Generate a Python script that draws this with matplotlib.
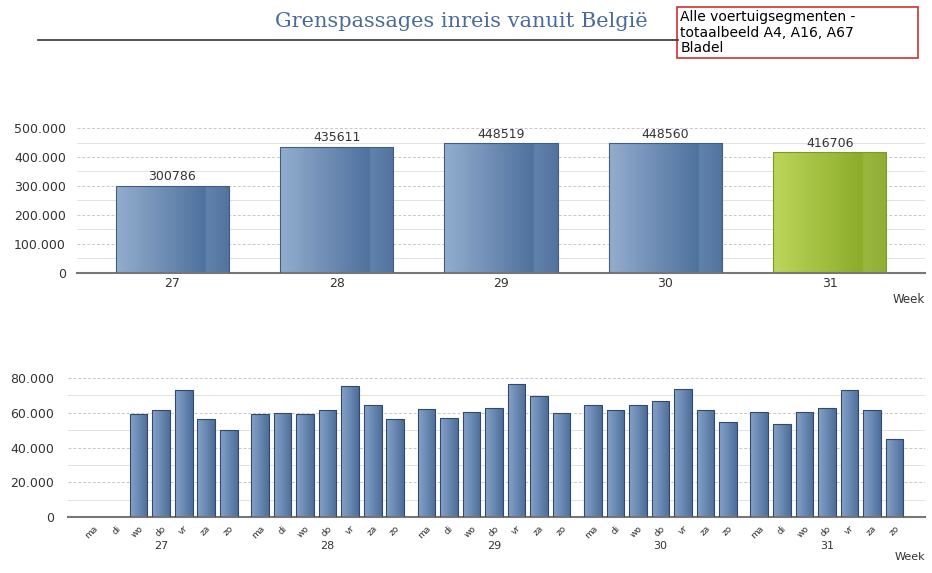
import numpy as np
import matplotlib
matplotlib.use("Agg")
import matplotlib.pyplot as plt
from matplotlib.colors import LinearSegmentedColormap
from matplotlib.ticker import FuncFormatter, MultipleLocator
from matplotlib.patches import Rectangle


weeks = ['27', '28', '29', '30', '31']
week_totals = [300786, 435611, 448519, 448560, 416706]

days = ['ma', 'di', 'wo', 'do', 'vr', 'za', 'zo']
# daily counts per week (ma..zo), week 27 starts on wednesday
daily = [
    [0, 0, 59400, 61700, 72900, 56300, 50100],
    [59400, 59800, 59400, 61700, 75200, 64600, 56300],
    [62300, 56900, 60300, 63000, 76500, 69400, 59800],
    [64600, 61700, 64600, 66700, 73600, 61700, 54900],
    [60300, 53400, 60300, 63000, 72900, 61700, 44700],
]

title = 'Grenspassages inreis vanuit België'
box_text = 'Alle voertuigsegmenten -\ntotaalbeeld A4, A16, A67\nBladel'

plt.rcParams['font.family'] = ['DejaVu Sans']

blue_cmap = LinearSegmentedColormap.from_list(
    'blue', [(0, '#93adcd'), (0.78, '#4f729f'), (0.80, '#6182ab'), (1, '#52739f')])
green_cmap = LinearSegmentedColormap.from_list(
    'green', [(0, '#bcd659'), (0.78, '#8cac2c'), (0.80, '#9ab840'), (1, '#8fae34')])
small_cmap = LinearSegmentedColormap.from_list('small', ['#86a3c8', '#4d6e9b'])


def dots(v, pos=None):
    return f'{int(v):,}'.replace(',', '.')


def fill_gradient(ax, bars, cmaps):
    grad = np.linspace(0, 1, 256).reshape(1, -1)
    for b, cm in zip(bars, cmaps):
        x, y = b.get_xy()
        w, h = b.get_width(), b.get_height()
        if h <= 0:
            continue
        im = ax.imshow(grad, extent=[x, x + w, y, y + h], cmap=cm,
                       aspect='auto', zorder=2.5, interpolation='bilinear')
        im.set_clip_path(b)


def style_axis(ax, pad):
    for s in ['left', 'right', 'top']:
        ax.spines[s].set_visible(False)
    ax.spines['bottom'].set_color('#777777')
    ax.spines['bottom'].set_linewidth(1.5)
    ax.tick_params(axis='y', which='both', length=0, labelsize=9, colors='#333333', pad=pad)
    ax.tick_params(axis='x', which='both', length=0, colors='#333333')
    ax.yaxis.set_major_formatter(FuncFormatter(dots))
    ax.grid(axis='y', which='major', color='#c8c8c8', linestyle=(0, (3, 2)), linewidth=0.7)
    ax.grid(axis='y', which='minor', color='#e2e2e2', linestyle='-', linewidth=0.7)
    ax.set_axisbelow(True)


fig = plt.figure(figsize=(9.32, 5.73), dpi=100)

# header
fig.text(0.495, 0.962, title, family=['DejaVu Serif'],
         fontsize=15, color='#4a6b9a', ha='center', va='center')
fig.add_artist(plt.Line2D([0.041, 0.727], [0.930, 0.930], color='#333333', linewidth=1.2))
fig.add_artist(Rectangle((0.7264, 0.8988), 0.2586, 0.089, transform=fig.transFigure,
                         facecolor='white', edgecolor='#d03030', linewidth=1.2))
fig.text(0.730, 0.982, box_text, fontsize=10, color='black', ha='left', va='top',
         linespacing=1.12)

# weekly totals
ax1 = fig.add_axes([0.0826, 0.5236, 0.910, 0.253])
xw = np.arange(len(weeks))
bars1 = ax1.bar(xw, week_totals, width=0.69, facecolor='none',
                edgecolor=['#3f5d85'] * 4 + ['#7b9a22'], linewidth=0.8, zorder=3)
fill_gradient(ax1, bars1, [blue_cmap] * 4 + [green_cmap])
for xi, v in zip(xw, week_totals):
    ax1.text(xi, v + 8000, str(v), ha='center', va='bottom', fontsize=9, color='#333333')
ax1.set_xlim(-0.58, 4.58)
ax1.set_ylim(0, 500000)
ax1.yaxis.set_major_locator(MultipleLocator(100000))
ax1.yaxis.set_minor_locator(MultipleLocator(50000))
ax1.set_xticks(xw)
ax1.set_xticklabels(weeks, fontsize=9)
ax1.tick_params(axis='x', pad=3)
style_axis(ax1, 8)
ax1.text(1.0, -0.18, 'Week', transform=ax1.transAxes, ha='right', va='center',
         fontsize=8.5, color='#333333')

# daily counts
gap = 0.38
ax2 = fig.add_axes([0.073, 0.0977, 0.9195, 0.2426])
xs, vals, labels = [], [], []
for wi, row in enumerate(daily):
    for di, v in enumerate(row):
        xs.append(wi * (7 + gap) + di)
        vals.append(v)
        labels.append(days[di])
bars2 = ax2.bar(xs, vals, width=0.78, facecolor='none', edgecolor='#33496a',
                linewidth=0.8, zorder=3)
fill_gradient(ax2, bars2, [small_cmap] * len(bars2))
ax2.set_xlim(xs[0] - 1.13, xs[-1] + 1.35)
ax2.set_ylim(0, 80000)
ax2.yaxis.set_major_locator(MultipleLocator(20000))
ax2.yaxis.set_minor_locator(MultipleLocator(10000))
ax2.set_xticks(xs)
ax2.set_xticklabels(labels, rotation=45, ha='right', rotation_mode='anchor',
                    fontsize=6.5, color='#555555')
ax2.tick_params(axis='x', pad=5)
style_axis(ax2, 10)
for wi, w in enumerate(weeks):
    ax2.text(wi * (7 + gap) + 3, -0.205, w, transform=ax2.get_xaxis_transform(),
             ha='center', va='center', fontsize=8, color='#333333')
ax2.text(1.0, -0.29, 'Week', transform=ax2.transAxes, ha='right', va='center',
         fontsize=8, color='#333333')

fig.savefig('out.png', dpi=100)
